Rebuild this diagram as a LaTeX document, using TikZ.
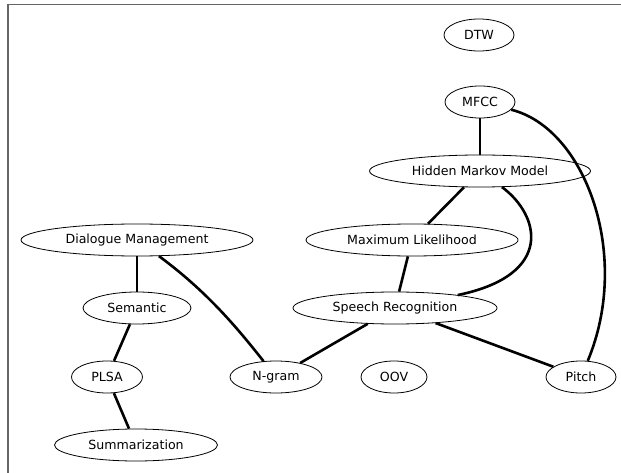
\documentclass[tikz,border=0pt]{standalone}
\usepackage{fontspec}
\setmainfont{DejaVu Sans}
\usetikzlibrary{shapes.geometric}
\begin{document}
\begin{tikzpicture}[x=1pt,y=-1pt,
  term/.style={ellipse,draw,line width=0.8pt,minimum height=32pt,inner sep=0pt,
    font=\fontsize{12.6}{14}\selectfont},
  link/.style={line width=2.6pt}]
\useasboundingbox (0,0) rectangle (621,473);
% frame
\draw[line width=1.6pt,gray!80!black] (8,480) -- (8,4.5) -- (630,4.5);

% terms
\node[term,minimum width=70pt]  (dtw)   at (479,35)  {DTW};
\node[term,minimum width=70pt]  (mfcc)  at (480,102) {MFCC};
\node[term,minimum width=221pt] (hmm)   at (480,171) {Hidden Markov Model};
\node[term,minimum width=212pt] (ml)    at (412,240) {Maximum Likelihood};
\node[term,minimum width=204pt] (sr)    at (395,308) {Speech Recognition};
\node[term,minimum width=232pt] (dm)    at (137,240) {Dialogue Management};
\node[term,minimum width=108pt] (sem)   at (137,308) {Semantic};
\node[term,minimum width=71pt]  (plsa)  at (107,377) {PLSA};
\node[term,minimum width=92pt]  (ngram) at (276,377) {N-gram};
\node[term,minimum width=66pt]  (oov)   at (394,377) {OOV};
\node[term,minimum width=70pt]  (pitch) at (581,377) {Pitch};
\node[term,minimum width=163pt] (summ)  at (136,445) {Summarization};

% links
\draw[link] (mfcc) -- (hmm);
\draw[link] (mfcc) .. controls (585,128) and (632,255) .. (pitch);
\draw[link] (hmm) -- (ml);
\draw[link] (hmm) .. controls (540,215) and (555,275) .. (sr);
\draw[link] (ml) -- (sr);
\draw[link] (sr) -- (ngram);
\draw[link] (sr) -- (pitch);
\draw[link] (dm) -- (sem);
\draw[link] (dm) .. controls (205,290) and (235,325) .. (ngram);
\draw[link] (sem) -- (plsa);
\draw[link] (plsa) -- (summ);
\end{tikzpicture}
\end{document}
